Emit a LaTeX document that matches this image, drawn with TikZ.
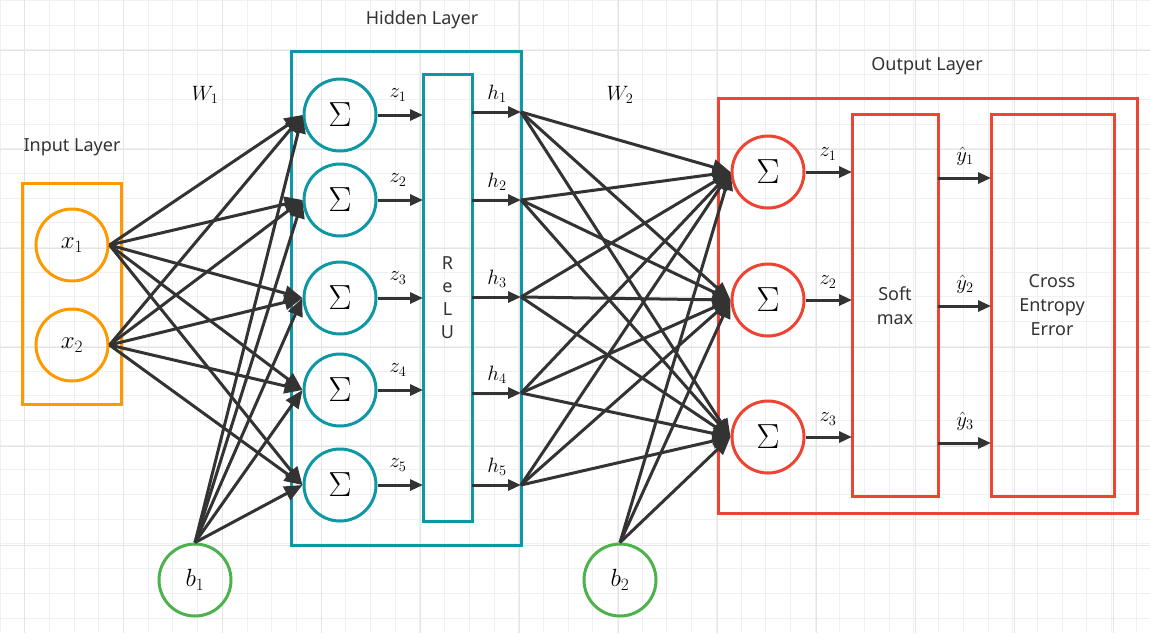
\documentclass[tikz,border=0pt]{standalone}
\usepackage{fontspec}
\usepackage{graphicx}
\newfontfamily\sans{Noto Sans}
\usetikzlibrary{arrows.meta}
\definecolor{org}{HTML}{FF9900}
\definecolor{teal1}{HTML}{0E98A5}
\definecolor{red1}{HTML}{EE4433}
\definecolor{grn}{HTML}{4CB34C}
\definecolor{dk}{HTML}{333333}
\newcommand{\bigsig}{\scalebox{1.4}{$\Sigma$}}
\begin{document}
\begin{tikzpicture}[x=1pt,y=-1pt,
 neu/.style={circle,draw,line width=3pt,minimum size=72pt,inner sep=0pt,font=\fontsize{24}{28}\selectfont},
 con/.style={draw=dk,line width=3pt,-{Triangle[length=18pt,width=15pt]}},
 sm/.style={draw=dk,line width=3pt,-{Triangle[length=13pt,width=11pt]}},
 lbl/.style={font=\fontsize{22}{26}\selectfont},
 txt/.style={font=\sans\fontsize{18}{24}\selectfont,text=dk,align=center}]
\useasboundingbox (0,0) rectangle (1150,633);
\fill[white] (0,0) rectangle (1150,633);
\foreach \x in {0,24.7,...,1150} \draw[black!6,line width=1pt] (\x,0) -- (\x,633);
\foreach \y in {0.5,25.2,...,633} \draw[black!6,line width=1pt] (0,\y) -- (1150,\y);
\foreach \x in {24,123,...,1150} \draw[black!10,line width=1pt] (\x,0) -- (\x,633);
\foreach \y in {50,149,...,633} \draw[black!10,line width=1pt] (0,\y) -- (1150,\y);
% boxes
\node[draw=org,line width=3pt,minimum width=99pt,minimum height=221pt,inner sep=0pt] (ib) at (71.5,293.5) {};
\node[draw=teal1,line width=3pt,minimum width=230pt,minimum height=494pt,inner sep=0pt] (hb) at (406,298) {};
\node[draw=red1,line width=3pt,minimum width=419pt,minimum height=415pt,inner sep=0pt] (ob) at (927.5,305.5) {};
\node[txt] (il) at (72,147) {Input Layer};
\node[txt] (hl) at (422,20) {Hidden Layer};
\node[txt] (ol) at (927,66) {Output Layer};
\node[lbl] (w1) at (205,95) {$W_1$};
\node[lbl] (w2) at (620,95) {$W_2$};
% input
\node[neu,draw=org] (x1) at (72,245) {$x_1$};
\node[neu,draw=org] (x2) at (72,345) {$x_2$};
\node[neu,draw=grn] (b1) at (195,580) {$b_1$};
\node[neu,draw=grn] (b2) at (620,580) {$b_2$};
% relu
\node[draw=teal1,line width=3pt,minimum width=49pt,minimum height=447pt,inner sep=0pt] (relu) at (447.5,297.5) {};
\node[txt] (rt) at (447.5,298) {R\\[-1pt]e\\[-1pt]L\\[-1pt]U};
\foreach \i/\y/\hy in {1/115/112,2/200/200,3/298/297,4/390/393,5/485/485}{
 \node[neu,draw=teal1] (s\i) at (340,\y) {\bigsig};
 \coordinate (ri\i) at (423,\y);
 \coordinate (ro\i) at (472,\hy);
 \coordinate (he\i) at (521,\hy);
 \draw[sm] (s\i) -- (ri\i);
 \draw[sm] (ro\i) -- (he\i);
 \node[lbl] (z\i) at (398,\y-20) {$z_\i$};
 \node[lbl] (h\i) at (497,\hy-18) {$h_\i$};
}
\foreach \i in {1,...,5}{
 \draw[con] (x1.east) -- (s\i.west);
 \draw[con] (x2.east) -- (s\i.west);
 \draw[con] (b1.north) -- (s\i.west);
}
% output
\node[draw=red1,line width=3pt,minimum width=86pt,minimum height=382pt,inner sep=0pt] (soft) at (895,305) {};
\node[txt] (st) at (895,306) {Soft\\max};
\node[draw=red1,line width=3pt,minimum width=123pt,minimum height=382pt,inner sep=0pt] (cee) at (1052.5,305) {};
\node[txt,text width=110pt] (ct) at (1052,305) {Cross\\Entropy\\Error};
\foreach \j/\y/\yy in {1/172/178,2/300/306,3/437/443}{
 \node[neu,draw=red1] (o\j) at (768,\y) {\bigsig};
 \coordinate (si\j) at (852,\y);
 \coordinate (so\j) at (938,\yy);
 \coordinate (ci\j) at (991,\yy);
 \draw[sm] (o\j) -- (si\j);
 \draw[sm] (so\j) -- (ci\j);
 \node[lbl] (zo\j) at (828,\y-18) {$z_\j$};
 \node[lbl] (y\j) at (965,\yy-22) {$\hat y_\j$};
 \foreach \i in {1,...,5} \draw[con] (he\i) -- (o\j.west);
 \draw[con] (b2.north) -- (o\j.west);
}
\end{tikzpicture}
\end{document}
